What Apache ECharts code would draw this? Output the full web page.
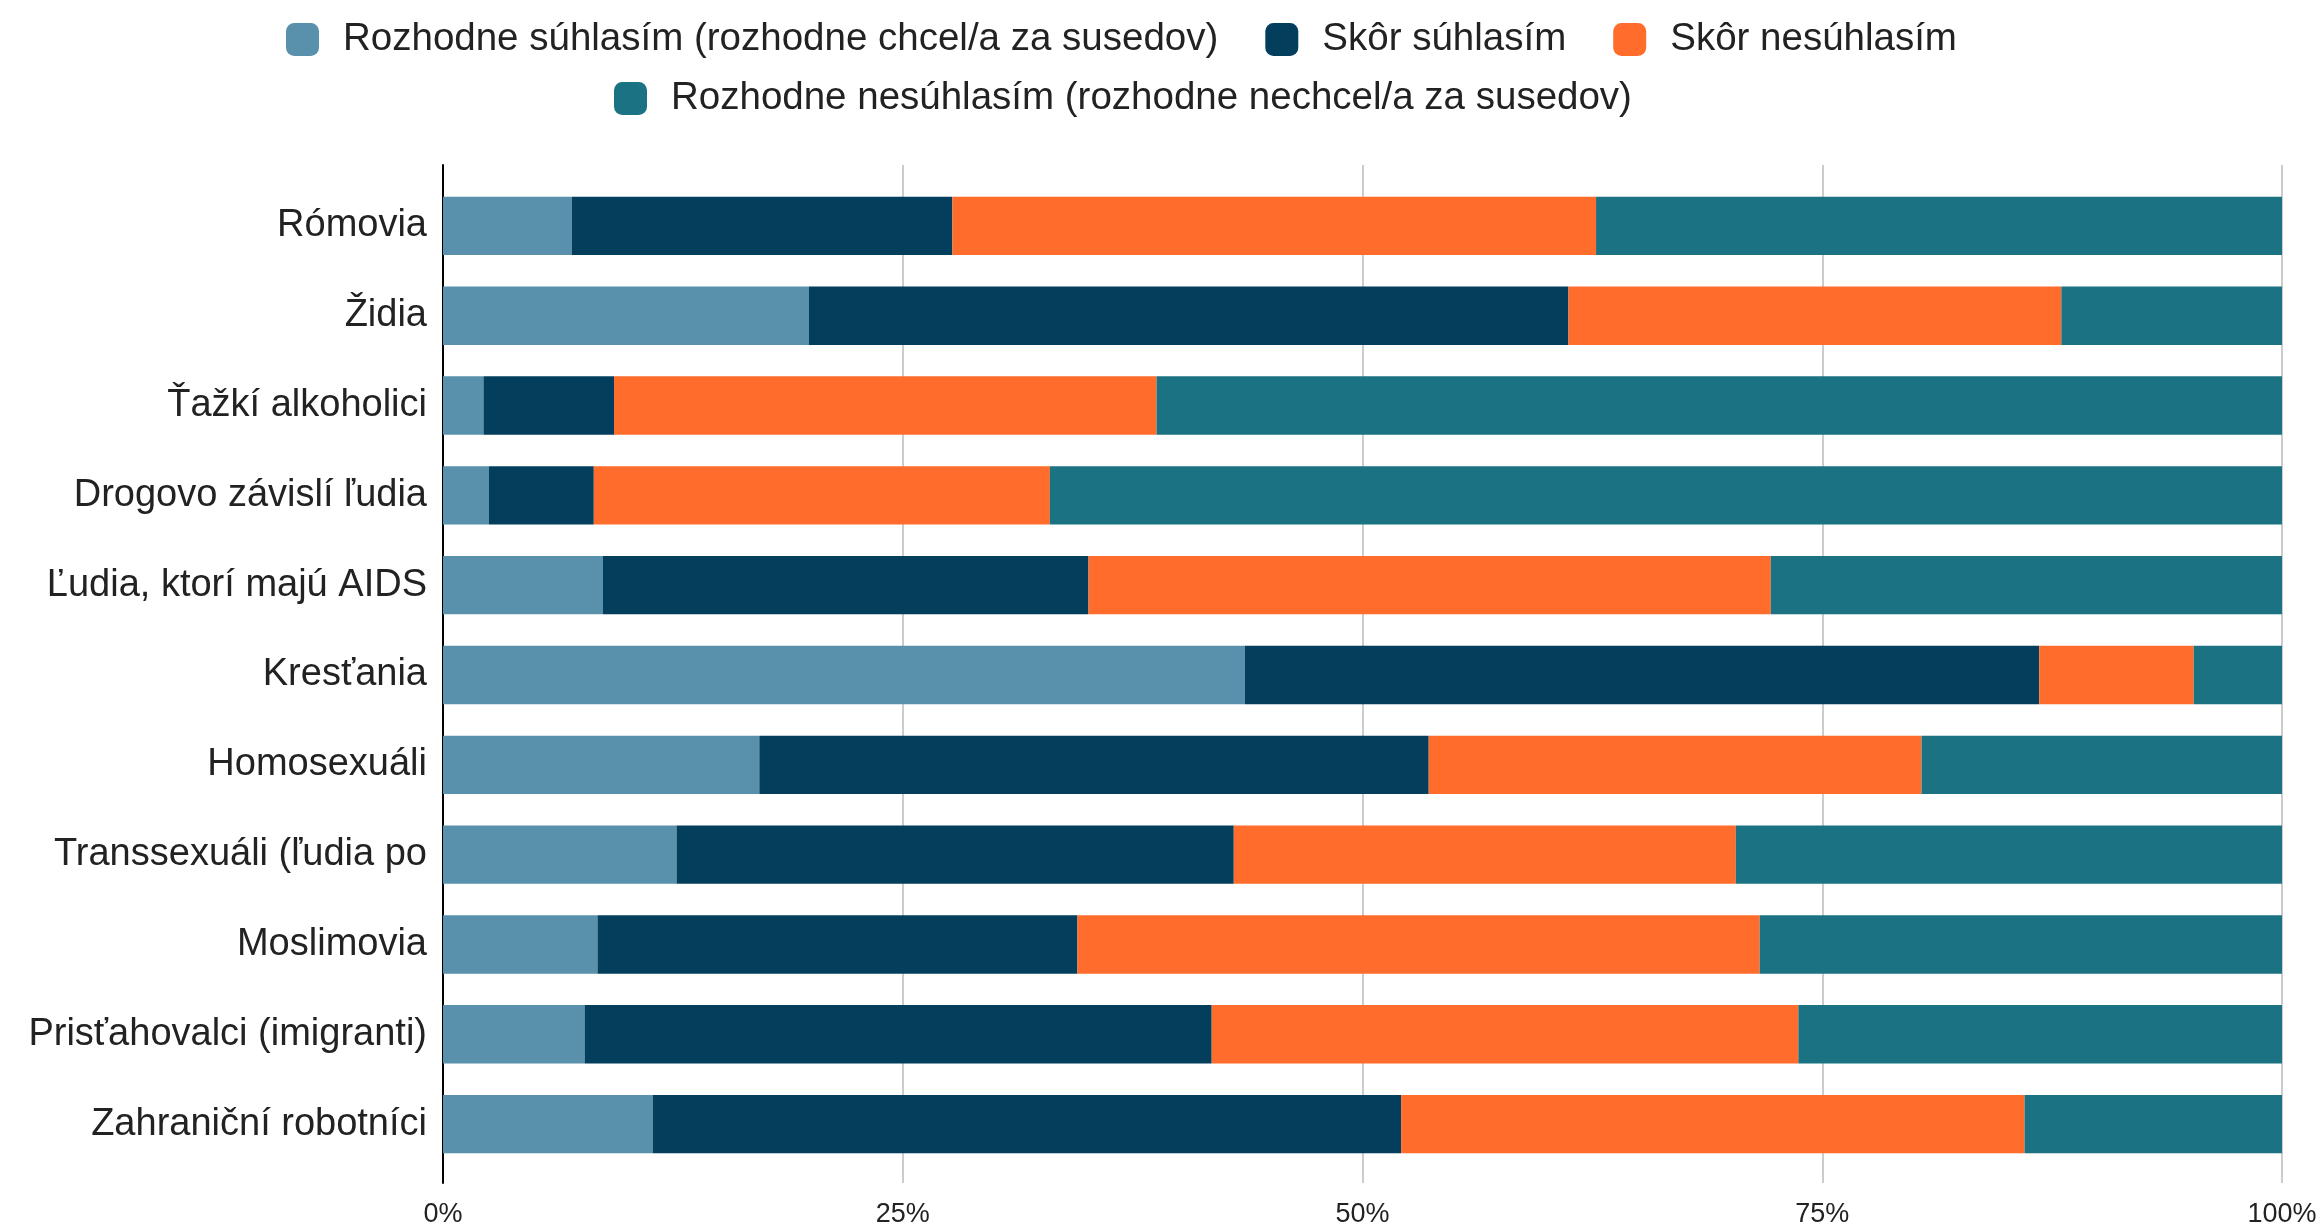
<!DOCTYPE html>
<html>
<head>
<meta charset="utf-8">
<script src="https://cdn.jsdelivr.net/npm/echarts@6/dist/echarts.min.js"></script>
<style>
html,body{margin:0;padding:0;background:#fff;}
#chart{width:2323px;height:1229px;}
</style>
</head>
<body>
<div id="chart"></div>
<script>
const categories = ["Rómovia","Židia","Ťažkí alkoholici","Drogovo závislí ľudia","Ľudia, ktorí majú AIDS","Kresťania","Homosexuáli","Transsexuáli (ľudia po","Moslimovia","Prisťahovalci (imigranti)","Zahraniční robotníci"];
const seriesNames = ["Rozhodne súhlasím (rozhodne chcel/a za susedov)","Skôr súhlasím","Skôr nesúhlasím","Rozhodne nesúhlasím (rozhodne nechcel/a za susedov)"];
const strongAgree    = [7.0, 19.9, 2.2, 2.5, 8.7, 43.6, 17.2, 12.7, 8.4, 7.7, 11.4];
const ratherAgree    = [20.7, 41.3, 7.1, 5.7, 26.4, 43.2, 36.4, 30.3, 26.1, 34.1, 40.7];
const ratherDisagree = [35.0, 26.8, 29.5, 24.8, 37.1, 8.4, 26.8, 27.3, 37.1, 31.9, 33.9];
const strongDisagree = [37.3, 12.0, 61.2, 67.0, 27.8, 4.8, 19.6, 29.7, 28.4, 26.3, 14.0];
const tickValues = [0, 25, 50, 75, 100];

const colors = ["#5990ab", "#033f5d", "#ff6c2c", "#1b7282"];
const font = "'Liberation Sans', Arial, sans-serif";
const valuesList = [strongAgree, ratherAgree, ratherDisagree, strongDisagree];

const chart = echarts.init(document.getElementById('chart'));
const legendCommon = {
  orient: 'horizontal',
  icon: 'roundRect',
  itemWidth: 33,
  itemHeight: 33,
  itemGap: 47,
  textStyle: { fontFamily: font, fontSize: 38.5, color: '#222', padding: [0, 0, 0, 19] }
};
chart.setOption({
  animation: false,
  color: colors,
  legend: [
    Object.assign({}, legendCommon, { data: seriesNames.slice(0, 3), left: 281, top: 15 }),
    Object.assign({}, legendCommon, { data: seriesNames.slice(3), left: 609, top: 74 })
  ],
  grid: [
    { left: 443, right: 41, top: 165, bottom: 46 },
    { left: 443, right: 41, top: 181, bottom: 60 }
  ],
  xAxis: [
    {
      gridIndex: 0, type: 'value', min: 0, max: 100, interval: 25,
      axisLine: { show: false }, axisTick: { show: false },
      splitLine: { show: true, lineStyle: { color: '#cccccc', width: 2 } },
      axisLabel: { fontFamily: font, fontSize: 27, color: '#222', margin: 18, formatter: '{value}%' }
    },
    { gridIndex: 1, type: 'value', min: 0, max: 100, show: false }
  ],
  yAxis: [
    {
      gridIndex: 0, type: 'value', min: 0, max: 1,
      axisLine: { show: true, lineStyle: { color: '#000', width: 2 } },
      axisTick: { show: false }, axisLabel: { show: false }, splitLine: { show: false }
    },
    {
      gridIndex: 1, type: 'category', data: categories, inverse: true,
      axisLine: { show: false }, axisTick: { show: false }, splitLine: { show: false },
      axisLabel: { fontFamily: font, fontSize: 38, color: '#222', margin: 16 }
    }
  ],
  series: seriesNames.map((name, i) => ({
    name: name,
    type: 'bar',
    stack: 'total',
    xAxisIndex: 1,
    yAxisIndex: 1,
    barCategoryGap: '35%',
    data: valuesList[i],
    itemStyle: { color: colors[i] }
  }))
});
</script>
</body>
</html>
